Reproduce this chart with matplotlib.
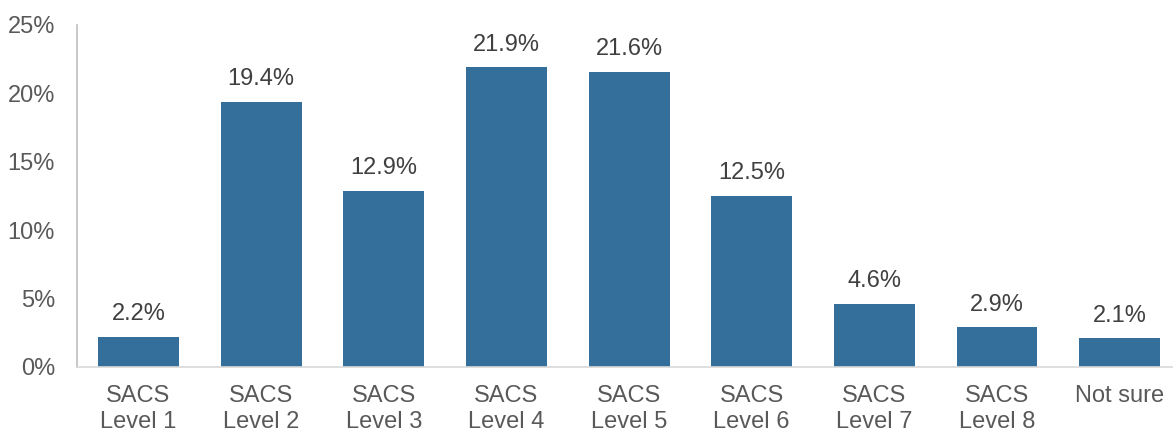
import matplotlib.pyplot as plt
import numpy as np

categories = ["SACS\nLevel 1", "SACS\nLevel 2", "SACS\nLevel 3", "SACS\nLevel 4",
              "SACS\nLevel 5", "SACS\nLevel 6", "SACS\nLevel 7", "SACS\nLevel 8", "Not sure"]
values = [2.2, 19.4, 12.9, 21.9, 21.6, 12.5, 4.6, 2.9, 2.1]
yticks = [0, 5, 10, 15, 20, 25]

plt.rcParams['font.family'] = ['Liberation Sans', 'DejaVu Sans']

fig = plt.figure(figsize=(11.73, 4.34), dpi=100)
ax = fig.add_axes([0.0658, 0.1544, 0.941, 0.788])

x = np.arange(len(categories))
ax.bar(x, values, width=0.66, color='#336F9A', zorder=2)

for xi, v in zip(x, values):
    ax.text(xi, v + 0.85, f"{v:.1f}%", ha='center', va='bottom',
            fontsize=17, color='#404040')

ax.set_xlim(-0.5, len(categories) - 0.5)
ax.set_ylim(0, 25)
ax.set_yticks(yticks)
ax.set_yticklabels([f"{t}%" for t in yticks], fontsize=17, color='#595959')
ax.set_xticks(x)
ax.set_xticklabels(categories, fontsize=17, color='#595959', linespacing=1.25)
ax.tick_params(axis='x', length=0, pad=13)
ax.tick_params(axis='y', length=0, pad=16)

for s in ['top', 'right']:
    ax.spines[s].set_visible(False)
ax.spines['left'].set_color('#BFBFBF')
ax.spines['bottom'].set_color('#D9D9D9')
ax.spines['left'].set_linewidth(1.2)
ax.spines['bottom'].set_linewidth(1.2)

fig.savefig("out.png", dpi=100)
